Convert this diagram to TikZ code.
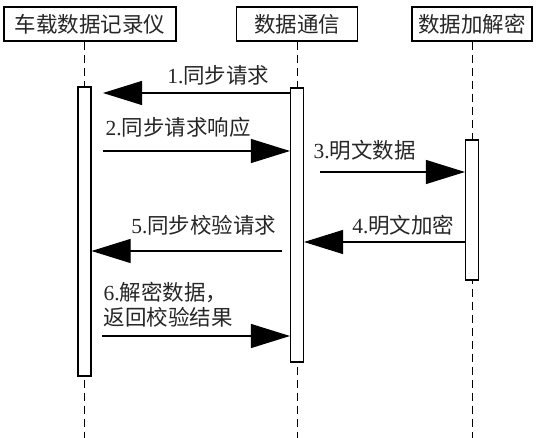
\documentclass[tikz,border=0pt]{standalone}
\usepackage{fontspec}
\setmainfont{Liberation Serif}
\newfontfamily\cjk{Noto Sans CJK SC}
\usetikzlibrary{arrows.meta, positioning}

\begin{document}
\begin{tikzpicture}[x=1pt, y=-1pt, line width=1.1pt,
        actor/.style={draw, line width=1.3pt, minimum height=34pt, inner sep=0pt, text=black!85, font=\fontsize{21.5}{21.5}\selectfont\cjk},
        act/.style={draw, fill=white, minimum width=13pt, inner sep=0pt},
        life/.style={line width=1pt, dash pattern=on 8pt off 5pt},
        msg/.style={-{Triangle[length=39pt, width=24pt]}},
        lbl/.style={inner sep=0pt, text=black!85, font=\fontsize{21.5}{25}\selectfont}]

    \useasboundingbox (0,0) rectangle (537,438);

    \node[actor, minimum width=172pt] (rec)  at (90,24)  {车载数据记录仪};
    \node[actor, minimum width=121pt] (comm) at (297,24) {数据通信};
    \node[actor, minimum width=120pt] (enc)  at (472,24) {数据加解密};

    % lifelines
    \coordinate (recEnd)  at (84.5,438);
    \coordinate (commEnd) at (297,438);
    \coordinate (encEnd)  at (472,438);
    \draw[life] (rec.south -| recEnd) -- (recEnd);
    \draw[life] (comm.south) -- (commEnd);
    \draw[life] (enc.south) -- (encEnd);

    % activations
    \node[act, minimum height=289pt] (recA)  at (84.5,231.5) {};
    \node[act, minimum height=274pt] (commA) at (297,225)    {};
    \node[act, minimum height=140pt] (encA)  at (472,210)    {};

    % messages
    \coordinate (m1) at (103,93);
    \coordinate (m2) at (103,151);
    \coordinate (m3) at (320,172);
    \coordinate (y4) at (0,242);
    \coordinate (m5) at (282,251);
    \coordinate (m6) at (102,336);

    \draw[msg] (commA.west |- m1) -- (m1);
    \draw[msg] (m2) -- (commA.west |- m2);
    \draw[msg] (m3) -- (encA.west |- m3);
    \draw[msg] (encA.west |- y4) -- (commA.east |- y4);
    \draw[msg] (m5) -- (recA.east |- m5);
    \draw[msg] (m6) -- (commA.west |- m6);

    \node[lbl, anchor=east] (l1) at (270,75)  {1.{\cjk 同步请求}};
    \node[lbl, anchor=west] (l2) at (105,127) {2.{\cjk 同步请求响应}};
    \node[lbl, anchor=west] (l3) at (313,150) {3.{\cjk 明文数据}};
    \node[lbl, anchor=east] (l4) at (455,225) {4.{\cjk 明文加密}};
    \node[lbl, anchor=east] (l5) at (277,225) {5.{\cjk 同步校验请求}};
    \node[lbl, anchor=west, align=left] (l6) at (103,305) {6.{\cjk 解密数据，}\\{\cjk 返回校验结果}};
\end{tikzpicture}
\end{document}
